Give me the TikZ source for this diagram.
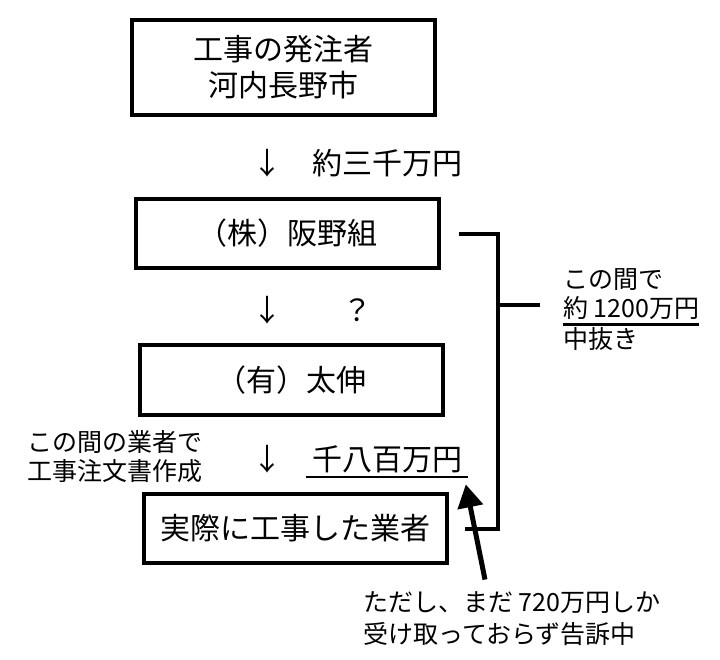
\documentclass[tikz,border=0pt]{standalone}
\usepackage{fontspec}
\setmainfont{Noto Sans CJK JP}
\usetikzlibrary{arrows.meta}
\newcommand\kasen[2][0pt]{\setbox0\hbox{#2}\kern-#1\rlap{\rule[-4pt]{\dimexpr\wd0+#1+#1\relax}{1.3pt}}\kern#1\box0}

\begin{document}
\begin{tikzpicture}[x=0.5pt,y=-0.5pt,node distance=73.25pt,
  waku/.style={draw, line width=2pt, minimum width=151.5pt, minimum height=34.75pt, align=center, font=\fontsize{15}{18}\selectfont},
  fuda/.style={inner sep=0pt, anchor=west, text height=13.2pt, text depth=1.8pt, font=\fontsize{15}{18}\selectfont},
  chu/.style={inner sep=0pt, anchor=west, align=left, font=\fontsize{12.5}{14.5}\selectfont},
  futo/.style={line width=2pt},
  yaji/.style={-{Triangle[length=11.5pt,width=12.5pt]}, line width=2.5pt}]
  \useasboundingbox (0,0) rectangle (720,660);
  \node(hatchu)[waku, minimum height=47.5pt] at (283.5,67.5) {工事の発注者\\河内長野市};
  \node(hanno)[waku, below of=hatchu, node distance=83pt, xshift=2pt] {（株）阪野組};
  \node(taishin)[waku, below of=hanno, xshift=2pt] {（有）太伸};
  \node(jissai)[waku, below of=taishin, node distance=74.25pt, xshift=2.25pt] {実際に工事した業者};
  \node(kin1)[fuda] at (252,163) {↓　約三千万円};
  \node(kin2)[fuda] at (252,310) {↓　　？};
  \node(kin3)[fuda] at (252,459) {↓　\kasen[3pt]{千八百万円}};
  \node(nuki)[chu] at (563,310) {この間で\\\kasen{約 1200万円}\\中抜き};
  \node(chumon)[chu] at (27,457) {この間の業者で\\工事注文書作成};
  \node(tadashi)[chu, font=\fontsize{12.5}{16}\selectfont] at (363,619) {ただし、まだ 720万円しか\\受け取っておらず告訴中};
  % bracket between hanno and jissai
  \coordinate (bunki) at (498,305);
  \draw[futo] ([xshift=9pt]hanno.east) -| (bunki) |- ([xshift=7.75pt]jissai.east);
  \draw[futo] (bunki) -- ([xshift=-11.5pt]nuki.west |- bunki);
  \draw[yaji] ([xshift=61pt,yshift=6pt]tadashi.north west) -- ([xshift=1.5pt,yshift=-5pt]kin3.south east);
\end{tikzpicture}
\end{document}
